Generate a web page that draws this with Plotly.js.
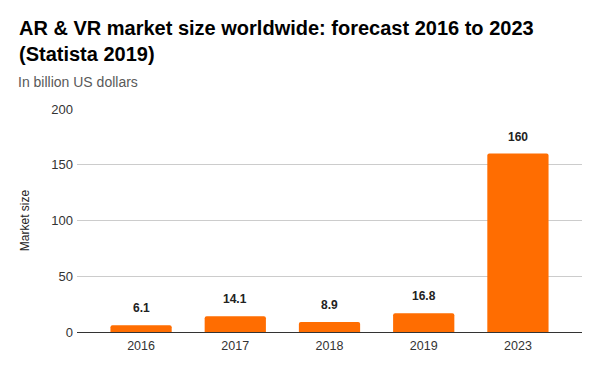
<!DOCTYPE html>
<html><head><meta charset="utf-8">
<script src="https://cdn.plot.ly/plotly-3.0.1.min.js"></script>
<style>html,body{margin:0;padding:0;background:#fff}</style>
</head><body><div id="chart" style="width:600px;height:371px"></div>
<script>
const years = ["2016", "2017", "2018", "2019", "2023"];
const marketSize = [6.1, 14.1, 8.9, 16.8, 160];
const valueLabels = ["6.1", "14.1", "8.9", "16.8", "160"];
const yTicks = [0, 50, 100, 150, 200];

const font = "Liberation Sans, Arial, sans-serif";
const trace = {
  type: "bar", x: years, y: marketSize,
  marker: {color: "#FF6D01", cornerradius: 2},
  width: 0.65, hoverinfo: "x+y"
};
const annotations = years.map((yr, i) => ({
  x: i, y: marketSize[i], xref: "x", yref: "y",
  text: "<b>" + valueLabels[i] + "</b>", showarrow: false,
  yanchor: "bottom", yshift: 8, font: {family: font, size: 12, color: "#222"}
}));
annotations.push({
  xref: "paper", yref: "paper", x: -61/505, y: 1 + 27/223, xanchor: "left", yanchor: "middle",
  text: "In billion US dollars", showarrow: false, font: {family: font, size: 14, color: "#595959"}
});
const layout = {
  width: 600, height: 371,
  margin: {l: 77, r: 18, t: 109, b: 39},
  paper_bgcolor: "#fff", plot_bgcolor: "#fff",
  font: {family: font, size: 12, color: "#444"},
  title: {
    text: "<b>AR & VR market size worldwide: forecast 2016 to 2023<br>(Statista 2019)</b>",
    xref: "container", yref: "container", x: 19/600, xanchor: "left", y: 1 - 35/371, yanchor: "top",
    font: {family: font, size: 20, color: "#000"}
  },
  xaxis: {type: "category", range: [-0.68, 4.68], showgrid: false, showline: false, ticks: "",
    ticklabelstandoff: 4, tickfont: {size: 12.5, color: "#333"}, fixedrange: true},
  yaxis: {range: [0, 200], tickvals: yTicks, ticktext: yTicks.map(String), gridcolor: "#CCCCCC",
    zeroline: true, zerolinecolor: "#333", zerolinewidth: 1, showline: false,
    ticks: "", ticklen: 0, ticklabelstandoff: 3, tickfont: {size: 13, color: "#333"},
    title: {text: "Market size", font: {size: 12, color: "#222"}, standoff: 19}},
  annotations: annotations,
  showlegend: false, bargap: 0.35
};
Plotly.newPlot("chart", [trace], layout, {displayModeBar: false, staticPlot: true});
</script></body></html>
